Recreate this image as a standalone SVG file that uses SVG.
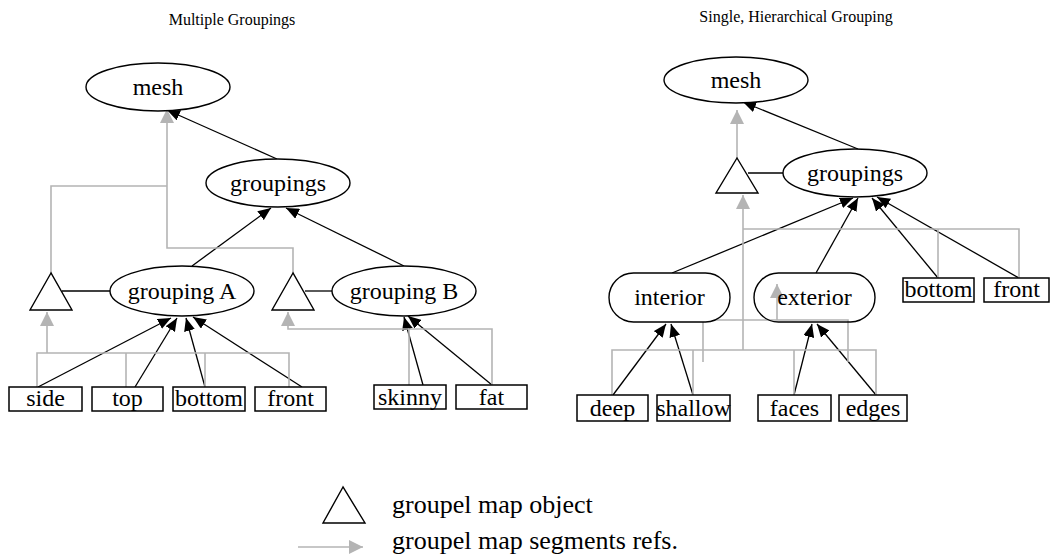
<svg xmlns="http://www.w3.org/2000/svg" width="1051" height="554" viewBox="0 0 1051 554" font-family="'Liberation Serif', serif">
<style>
.t{font-family:'Liberation Serif',serif;font-size:24px;text-anchor:middle;fill:#000;}
.title{font-family:'Liberation Serif',serif;font-size:16px;text-anchor:middle;fill:#000;}
.leg{font-family:'Liberation Serif',serif;font-size:26px;fill:#000;}
.n{fill:#fff;stroke:#000;stroke-width:1.4;}
.nt{fill:none;stroke:#000;stroke-width:1.4;}
.b{fill:#fff;stroke:#000;stroke-width:1.5;}
.k{fill:none;stroke:#000;stroke-width:1.3;}
.ka{fill:none;stroke:#000;stroke-width:1.3;marker-end:url(#ab);}
.g{fill:none;stroke:#b4b4b4;stroke-width:1.6;}
.ga{fill:none;stroke:#b4b4b4;stroke-width:1.6;marker-end:url(#ag);}
</style>
<defs>
<marker id="ab" viewBox="0 0 13 11" refX="13" refY="5.5" markerWidth="13" markerHeight="11" markerUnits="userSpaceOnUse" orient="auto"><path d="M0,0 L13,5.5 L0,11 z" fill="#000"/></marker>
<marker id="ag" viewBox="0 0 14 14" refX="14" refY="7" markerWidth="14" markerHeight="14" markerUnits="userSpaceOnUse" orient="auto"><path d="M0,0 L14,7 L0,14 z" fill="#b4b4b4"/></marker>
</defs>
<rect width="1051" height="554" fill="#fff"/>
<text class="title" x="232" y="25">Multiple Groupings</text>
<text class="title" x="796" y="22">Single, Hierarchical Grouping</text>

<g id="connectors">
<line class="ka" x1="277" y1="159" x2="167" y2="110"/>
<line class="ka" x1="192" y1="266" x2="271" y2="208"/>
<line class="ka" x1="404" y1="266" x2="286" y2="208"/>
<line class="ka" x1="38" y1="387" x2="171" y2="318"/>
<line class="ka" x1="135" y1="387" x2="177" y2="318"/>
<line class="ka" x1="205" y1="387" x2="186" y2="318"/>
<line class="ka" x1="302" y1="387" x2="193" y2="317"/>
<line class="ka" x1="423" y1="385" x2="404" y2="317"/>
<line class="ka" x1="492" y1="385" x2="408" y2="316"/>
<line class="k" x1="62" y1="291" x2="110" y2="291"/>
<line class="k" x1="305" y1="291" x2="332" y2="291"/>
<polyline class="g" points="51,273 51,186 167,186"/>
<polyline class="g" points="293,273 293,248 167,248 167,186"/>
<polyline class="ga" points="167,186 167,109"/>
<polyline class="g" points="37,387 37,353 289,353 289,387"/>
<line class="g" x1="126" y1="353" x2="126" y2="387"/>
<line class="g" x1="205" y1="353" x2="205" y2="387"/>
<polyline class="ga" points="47,353 47,312"/>
<polyline class="g" points="492,385 492,329 409,329 409,385"/>
<polyline class="ga" points="409,329 288,329 288,312"/>
<line class="ka" x1="858" y1="149" x2="743" y2="102"/>
<line class="k" x1="748" y1="173" x2="783" y2="173"/>
<line class="ka" x1="672" y1="273" x2="853" y2="198"/>
<line class="ka" x1="816" y1="273" x2="858" y2="198"/>
<line class="ka" x1="938" y1="278" x2="872" y2="198"/>
<line class="ka" x1="1019" y1="278" x2="877" y2="197"/>
<line class="ka" x1="613" y1="395" x2="666" y2="324"/>
<line class="ka" x1="693" y1="395" x2="671" y2="324"/>
<line class="ka" x1="794" y1="395" x2="812" y2="324"/>
<line class="ka" x1="876" y1="395" x2="817" y2="324"/>
<polyline class="ga" points="737,158 737,110"/>
<polyline class="ga" points="743,350 743,195"/>
<polyline class="g" points="612,395 612,350 876,350 876,395"/>
<line class="g" x1="693" y1="350" x2="693" y2="395"/>
<line class="g" x1="794" y1="350" x2="794" y2="395"/>
<polyline class="g" points="743,229 1019,229 1019,278"/>
<line class="g" x1="938" y1="229" x2="938" y2="278"/>
<polyline class="g" points="703,362 703,320 848,320 848,362"/>
<polyline class="ga" points="777,320 777,284"/>
</g>

<g id="meshL"><ellipse class="n" cx="158" cy="87" rx="72" ry="24"/><text class="t" x="158" y="95">mesh</text></g>
<g id="groupingsL"><ellipse class="n" cx="278" cy="183" rx="72" ry="24"/><text class="t" x="278" y="191">groupings</text></g>
<g id="groupingA"><ellipse class="n" cx="182" cy="291" rx="72" ry="25"/><text class="t" x="182" y="299">grouping A</text></g>
<g id="groupingB"><ellipse class="n" cx="404" cy="291" rx="72" ry="25"/><text class="t" x="404" y="299">grouping B</text></g>
<g id="triA"><polygon class="n" points="51,273 30,310 72,310"/></g>
<g id="triB"><polygon class="n" points="293,273 272,310 314,310"/></g>
<g id="side"><rect class="b" x="9" y="387" width="73" height="24"/><text class="t" x="45.5" y="406">side</text></g>
<g id="top"><rect class="b" x="92" y="387" width="71" height="24"/><text class="t" x="127.5" y="406">top</text></g>
<g id="bottomL"><rect class="b" x="173" y="387" width="72" height="24"/><text class="t" x="209" y="406">bottom</text></g>
<g id="frontL"><rect class="b" x="255" y="387" width="71" height="24"/><text class="t" x="290.5" y="406">front</text></g>
<g id="skinny"><rect class="b" x="374" y="385" width="72" height="24"/><text class="t" x="410" y="405">skinny</text></g>
<g id="fat"><rect class="b" x="456" y="385" width="71" height="24"/><text class="t" x="491.5" y="405">fat</text></g>

<g id="meshR"><ellipse class="n" cx="736" cy="80" rx="72" ry="23"/><text class="t" x="736" y="88">mesh</text></g>
<g id="triR"><polygon class="n" points="737,158 716,193 758,193"/></g>
<g id="groupingsR"><ellipse class="n" cx="855" cy="173" rx="72" ry="24"/><text class="t" x="855" y="181">groupings</text></g>
<g id="interior"><rect class="n" x="609" y="273" width="121" height="49" rx="24.5"/><text class="t" x="669.5" y="305">interior</text></g>
<g id="exterior"><rect class="nt" x="754" y="273" width="121" height="49" rx="24.5"/><text class="t" x="814.5" y="305">exterior</text></g>
<g id="bottomR"><rect class="b" x="903" y="278" width="71" height="24"/><text class="t" x="938.5" y="297">bottom</text></g>
<g id="frontR"><rect class="b" x="984" y="278" width="65" height="24"/><text class="t" x="1016.5" y="297">front</text></g>
<g id="deep"><rect class="b" x="577" y="395" width="71" height="26"/><text class="t" x="612.5" y="416">deep</text></g>
<g id="shallow"><rect class="b" x="657" y="395" width="73" height="26"/><text class="t" x="693.5" y="416">shallow</text></g>
<g id="faces"><rect class="b" x="758" y="395" width="73" height="26"/><text class="t" x="794.5" y="416">faces</text></g>
<g id="edges"><rect class="b" x="839" y="395" width="68" height="26"/><text class="t" x="873" y="416">edges</text></g>

<g id="legend">
<polygon class="n" points="343,487 323,523 365,523"/>
<text class="leg" x="392" y="513">groupel map object</text>
<line class="ga" x1="298" y1="547" x2="363" y2="547"/>
<text class="leg" x="392" y="549">groupel map segments refs.</text>
</g>
</svg>
